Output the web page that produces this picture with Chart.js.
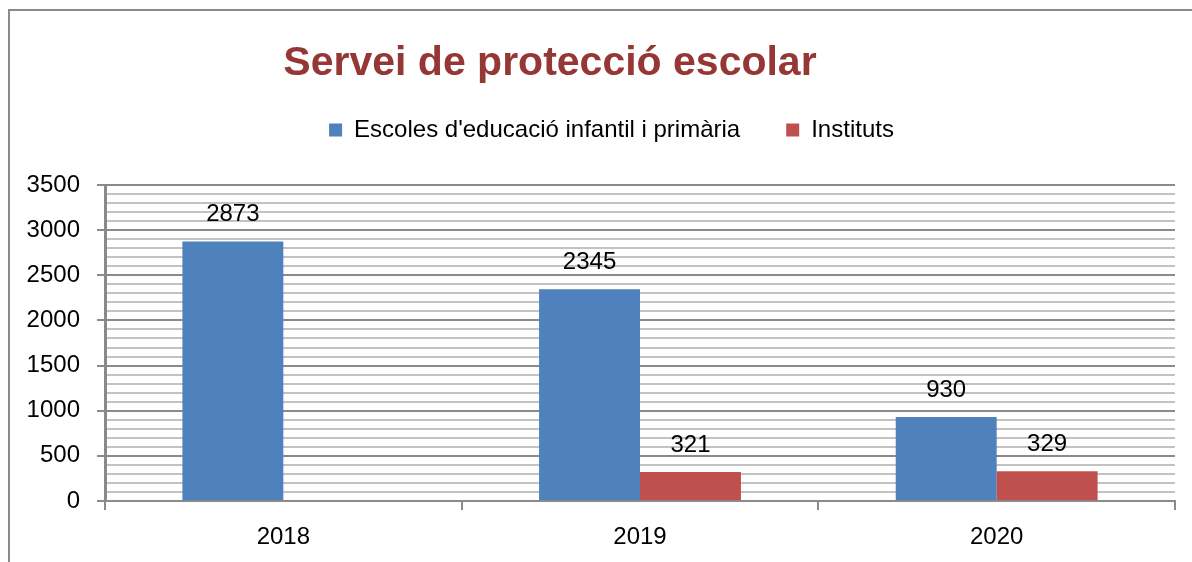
<!DOCTYPE html>
<html>
<head>
<meta charset="utf-8">
<script src="https://cdn.jsdelivr.net/npm/chart.js@4.4.0/dist/chart.umd.min.js"></script>
<style>
html, body { margin: 0; padding: 0; background: #fff; overflow: hidden; }
#frame { position: absolute; left: 8px; top: 9px; width: 1300px; height: 700px; border: 2px solid #8a8a8a; }
#wrap { position: absolute; left: 0; top: 0; width: 1192px; height: 562px; }
</style>
</head>
<body>
<div id="frame"></div>
<div id="wrap"><canvas id="chart"></canvas></div>
<script>
// data
var years = ['2018', '2019', '2020'];
var escoles = [2873, 2345, 930];
var instituts = [null, 321, 329];
var seriesNames = ["Escoles d'educació infantil i primària", 'Instituts'];
var titleText = 'Servei de protecció escolar';

Chart.defaults.font.family = "'Liberation Sans', Arial, sans-serif";
Chart.defaults.color = '#000';

// title drawn off-centre like the original
var titlePlugin = {
	id: 'titlePlugin',
	afterDraw: function(chart) {
		var ctx = chart.ctx;
		ctx.save();
		ctx.font = "bold 41px 'Liberation Sans', Arial, sans-serif";
		ctx.fillStyle = '#953735';
		ctx.textAlign = 'center';
		ctx.textBaseline = 'alphabetic';
		ctx.fillText(titleText, 550, 75);
		ctx.restore();
	}
};

//extra room under the legend, and nudge it right
var legendSpace = {
	id: 'legendSpace',
	beforeLayout: function(chart) {
		if (chart.legend && !chart.legend._patched) {
			var fit = chart.legend.fit;
			chart.legend.fit = function() {
				fit.call(this);
				this.height += 33;
			};
			chart.legend._patched = true;
		}
	},
	afterLayout: function(chart) {
		if (chart.legend) chart.legend.left += 48;
	}
};

//value labels over the bars
var barLabels = {
	id: 'barLabels',
	afterDatasetsDraw: function(chart) {
		var ctx = chart.ctx;
		ctx.save();
		ctx.font = "24px 'Liberation Sans', Arial, sans-serif";
		ctx.fillStyle = '#000';
		ctx.textAlign = 'center';
		ctx.textBaseline = 'middle';
		chart.data.datasets.forEach(function(ds, i) {
			chart.getDatasetMeta(i).data.forEach(function(bar, j) {
				if (ds.data[j] == null) return;
				ctx.fillText(ds.data[j], bar.x, bar.y - 27);
			});
		});
		ctx.restore();
	}
};

var chart = new Chart(document.getElementById('chart').getContext('2d'), {
	type: 'bar',
	data: {
		labels: years,
		datasets: [{
			label: seriesNames[0],
			data: escoles,
			backgroundColor: '#4F81BD',
			categoryPercentage: 0.566,
			barPercentage: 1
		}, {
			label: seriesNames[1],
			data: instituts,
			backgroundColor: '#C0504D',
			categoryPercentage: 0.566,
			barPercentage: 1
		}]
	},
	options: {
		responsive: true,
		maintainAspectRatio: false,
		animation: false,
		layout: { padding: { left: 0, right: 17, top: 72, bottom: 0 } },
		plugins: {
			title: { display: false },
			tooltip: { enabled: false },
			legend: {
				position: 'top',
				labels: {
					boxWidth: 13,
					boxHeight: 13,
					padding: 46,
					font: { size: 24 }
				}
			}
		},
		scales: {
			x: {
				grid: {
					display: true,
					drawOnChartArea: false,
					offset: true,
					tickLength: 9,
					color: '#8a8a8a',
					lineWidth: 2
				},
				border: { color: '#8a8a8a', width: 2 },
				ticks: { padding: 13, font: { size: 24 } },
				afterFit: function(scale) { scale.height = 61; }
			},
			y: {
				min: 0,
				max: 3500,
				grid: {
					tickLength: 8,
					lineWidth: 2,
					color: function(c) {
						return c.tick && c.tick.value % 500 === 0 ? '#8a8a8a' : '#c2c2c2';
					},
					tickColor: function(c) {
						return c.tick && c.tick.value % 500 === 0 ? '#8a8a8a' : 'rgba(0,0,0,0)';
					}
				},
				border: { color: '#8a8a8a', width: 3 },
				ticks: {
					stepSize: 100,
					autoSkip: false,
					padding: 17,
					font: { size: 24 },
					callback: function(v) { return v % 500 === 0 ? v : ''; }
				},
				afterFit: function(scale) { scale.width = 105; }
			}
		}
	},
	plugins: [titlePlugin, legendSpace, barLabels]
});
</script>
</body>
</html>
